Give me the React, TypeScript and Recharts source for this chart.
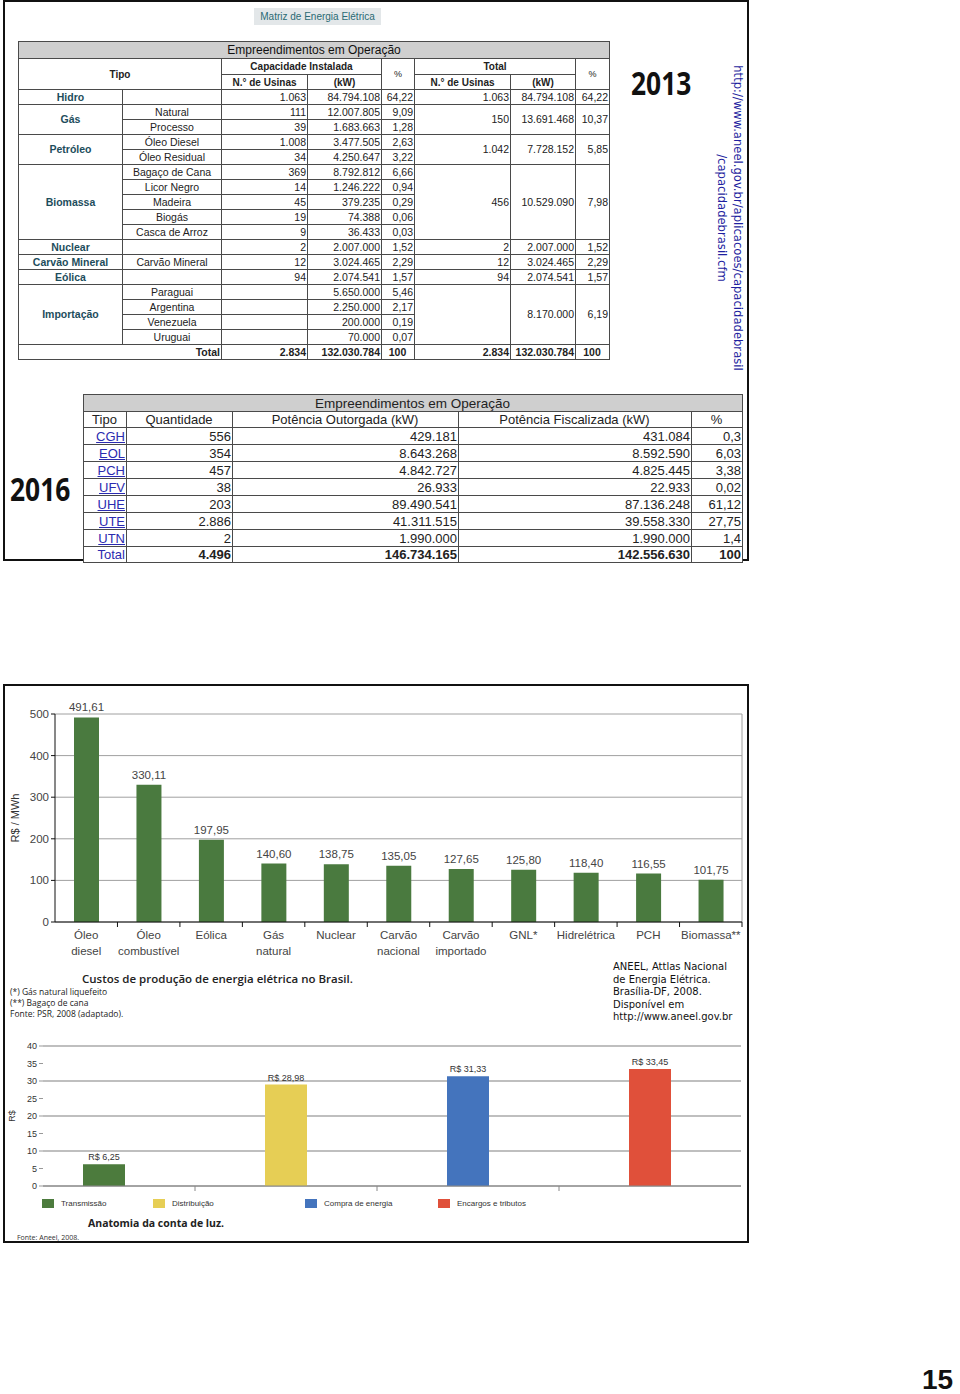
import React from "react";
import { Bar, BarChart, CartesianGrid, LabelList, Legend, XAxis, YAxis } from "recharts";

// ---- 2013 table ----
const matrizGroups = ["Hidro", "Gás", "Petróleo", "Biomassa", "Nuclear", "Carvão Mineral", "Eólica", "Importação"];
const matrizSubtypes = [
	[""],
	["Natural", "Processo"],
	["Óleo Diesel", "Óleo Residual"],
	["Bagaço de Cana", "Licor Negro", "Madeira", "Biogás", "Casca de Arroz"],
	[""],
	["Carvão Mineral"],
	[""],
	["Paraguai", "Argentina", "Venezuela", "Uruguai"],
];
const matrizUsinas = ["1.063", "111", "39", "1.008", "34", "369", "14", "45", "19", "9", "2", "12", "94", "", "", "", ""];
const matrizKw = ["84.794.108", "12.007.805", "1.683.663", "3.477.505", "4.250.647", "8.792.812", "1.246.222", "379.235", "74.388", "36.433", "2.007.000", "3.024.465", "2.074.541", "5.650.000", "2.250.000", "200.000", "70.000"];
const matrizPct = ["64,22", "9,09", "1,28", "2,63", "3,22", "6,66", "0,94", "0,29", "0,06", "0,03", "1,52", "2,29", "1,57", "5,46", "2,17", "0,19", "0,07"];
const matrizTotalUsinas = ["1.063", "150", "1.042", "456", "2", "12", "94", ""];
const matrizTotalKw = ["84.794.108", "13.691.468", "7.728.152", "10.529.090", "2.007.000", "3.024.465", "2.074.541", "8.170.000"];
const matrizTotalPct = ["64,22", "10,37", "5,85", "7,98", "1,52", "2,29", "1,57", "6,19"];
const matrizGrandTotal = ["2.834", "132.030.784", "100", "2.834", "132.030.784", "100"];

// ---- 2016 table ----
const tipos2016 = ["CGH", "EOL", "PCH", "UFV", "UHE", "UTE", "UTN"];
const quantidade2016 = ["556", "354", "457", "38", "203", "2.886", "2"];
const outorgada2016 = ["429.181", "8.643.268", "4.842.727", "26.933", "89.490.541", "41.311.515", "1.990.000"];
const fiscalizada2016 = ["431.084", "8.592.590", "4.825.445", "22.933", "87.136.248", "39.558.330", "1.990.000"];
const pct2016 = ["0,3", "6,03", "3,38", "0,02", "61,12", "27,75", "1,4"];
const total2016 = ["4.496", "146.734.165", "142.556.630", "100"];

// ---- production cost chart ----
const costCategories = ["Óleo\ndiesel", "Óleo\ncombustível", "Eólica", "Gás\nnatural", "Nuclear", "Carvão\nnacional", "Carvão\nimportado", "GNL*", "Hidrelétrica", "PCH", "Biomassa**"];
const costValues = [491.61, 330.11, 197.95, 140.6, 138.75, 135.05, 127.65, 125.8, 118.4, 116.55, 101.75];
const costTicks = [0, 100, 200, 300, 400, 500];

// ---- electricity bill chart ----
const billCategories = ["Transmissão", "Distribuição", "Compra de energia", "Encargos e tributos"];
const billValues = [6.25, 28.98, 31.33, 33.45];
const billColors = ["#4c7b3d", "#e6ce55", "#4474bd", "#e0503a"];
const billTicks = [0, 5, 10, 15, 20, 25, 30, 35, 40];

const SANS = '"Liberation Sans", Arial, sans-serif';

const costData = costCategories.map((name, i) => ({ name, value: costValues[i] }));
const billData = billCategories.map((name, i) => ({ name, [name]: billValues[i] }));

const fmt = (v: number) => v.toFixed(2).replace(".", ",");

function Matriz2013() {
	const bd = "1px solid #4a4a4a";
	const base: React.CSSProperties = { border: bd, padding: "0 2px", lineHeight: "13px", whiteSpace: "nowrap", overflow: "hidden" };
	const num: React.CSSProperties = { ...base, textAlign: "right", padding: "0 1px 0 0" };
	const sub: React.CSSProperties = { ...base, textAlign: "center" };
	const grp: React.CSSProperties = { ...base, textAlign: "center", fontWeight: "bold", color: "#1d4d5c" };
	const head: React.CSSProperties = { ...base, textAlign: "center", fontWeight: "bold", fontSize: 10 };
	const rows: React.ReactNode[] = [];
	let r = 0;
	matrizGroups.forEach((g, gi) => {
		const subs = matrizSubtypes[gi];
		subs.forEach((s, si) => {
			const k = r++;
			rows.push(
				<tr key={k} style={{ height: 15 }}>
					{si === 0 && <td rowSpan={subs.length} style={grp}>{g}</td>}
					<td style={sub}>{s}</td>
					<td style={num}>{matrizUsinas[k]}</td>
					<td style={num}>{matrizKw[k]}</td>
					<td style={num}>{matrizPct[k]}</td>
					{si === 0 && <td rowSpan={subs.length} style={num}>{matrizTotalUsinas[gi]}</td>}
					{si === 0 && <td rowSpan={subs.length} style={num}>{matrizTotalKw[gi]}</td>}
					{si === 0 && <td rowSpan={subs.length} style={num}>{matrizTotalPct[gi]}</td>}
				</tr>
			);
		});
	});
	return <table style={{ position: "absolute", left: 18, top: 41, width: 591, borderCollapse: "collapse", tableLayout: "fixed", background: "#fff", fontFamily: SANS, fontSize: 10.5, color: "#222" }}>
		<colgroup>
			{[104, 99, 86, 74, 33, 96, 65, 34].map((w, i) => <col key={i} style={{ width: w }} />)}
		</colgroup>
		<tbody>
			<tr style={{ height: 17 }}>
				<td colSpan={8} style={{ ...base, textAlign: "center", background: "#cfcfcf", fontSize: 12, color: "#111" }}>Empreendimentos em Operação</td>
			</tr>
			<tr style={{ height: 16 }}>
				<td colSpan={2} rowSpan={2} style={head}>Tipo</td>
				<td colSpan={2} style={head}>Capacidade Instalada</td>
				<td rowSpan={2} style={{ ...head, fontWeight: "normal", fontSize: 9 }}>%</td>
				<td colSpan={2} style={head}>Total</td>
				<td rowSpan={2} style={{ ...head, fontWeight: "normal", fontSize: 9 }}>%</td>
			</tr>
			<tr style={{ height: 15 }}>
				<td style={head}>N.° de Usinas</td>
				<td style={head}>(kW)</td>
				<td style={head}>N.° de Usinas</td>
				<td style={head}>(kW)</td>
			</tr>
			{rows}
			<tr style={{ height: 15 }}>
				<td colSpan={2} style={{ ...num, fontWeight: "bold" }}>Total</td>
				{matrizGrandTotal.map((t, i) => <td key={i} style={{ ...num, fontWeight: "bold", textAlign: i === 2 || i === 5 ? "center" : "right" }}>{t}</td>)}
			</tr>
		</tbody>
	</table>;
}

function Operacao2016() {
	const bd = "1px solid #4a4a4a";
	const base: React.CSSProperties = { border: bd, padding: "0 1px 0 0", lineHeight: "15px", whiteSpace: "nowrap", overflow: "hidden" };
	const num: React.CSSProperties = { ...base, textAlign: "right" };
	const link: React.CSSProperties = { ...base, textAlign: "right", color: "#2b2bb0", textDecoration: "underline" };
	const head: React.CSSProperties = { ...base, textAlign: "center" };
	return <table style={{ position: "absolute", left: 83, top: 394, width: 659, borderCollapse: "collapse", tableLayout: "fixed", background: "#fff", fontFamily: SANS, fontSize: 13, color: "#222" }}>
		<colgroup>
			{[43, 106, 226, 233, 51].map((w, i) => <col key={i} style={{ width: w }} />)}
		</colgroup>
		<tbody>
			<tr style={{ height: 17 }}>
				<td colSpan={5} style={{ ...head, background: "#cfcfcf", fontSize: 13.5 }}>Empreendimentos em Operação</td>
			</tr>
			<tr style={{ height: 16 }}>
				<td style={head}>Tipo</td>
				<td style={head}>Quantidade</td>
				<td style={head}>Potência Outorgada (kW)</td>
				<td style={head}>Potência Fiscalizada (kW)</td>
				<td style={head}>%</td>
			</tr>
			{tipos2016.map((t, i) => <tr key={t} style={{ height: 17 }}>
				<td style={link}>{t}</td>
				<td style={num}>{quantidade2016[i]}</td>
				<td style={num}>{outorgada2016[i]}</td>
				<td style={num}>{fiscalizada2016[i]}</td>
				<td style={num}>{pct2016[i]}</td>
			</tr>)}
			<tr style={{ height: 15 }}>
				<td style={{ ...num, color: "#2b2bb0" }}>Total</td>
				{total2016.map((t, i) => <td key={i} style={{ ...num, fontWeight: "bold" }}>{t}</td>)}
			</tr>
		</tbody>
	</table>;
}

function CostTick(props: any) {
	const { x, y, payload } = props;
	const half = payload?.offset ?? 31;
	const lines = String(payload.value).split("\n");
	return <g>
		<line x1={x + half} x2={x + half} y1={y - 8} y2={y - 3} stroke="#111" />
		<text x={x} y={y} textAnchor="middle" fontFamily={SANS} fontSize={11.5} fill="#444">
			{lines.map((l, i) => <tspan key={i} x={x} dy={i === 0 ? 9 : 16}>{l}</tspan>)}
		</text>
	</g>;
}

function BillTick(props: any) {
	const { x, y, payload, index } = props;
	const half = payload?.offset ?? 91;
	if (index > 2) return null;
	return <line x1={x + half} x2={x + half} y1={y} y2={y + 5} stroke="#888" />;
}

function CostChart() {
	return <div style={{ position: "absolute", left: 0, top: 690 }}>
		<BarChart width={750} height={280} data={costData} margin={{ top: 24, right: 8, bottom: 8, left: 15 }}>
			<CartesianGrid stroke="#a0a0a0" vertical={true}
				verticalCoordinatesGenerator={({ offset }: any) => [offset.left + offset.width]} />
			<XAxis dataKey="name" interval={0} height={40} axisLine={{ stroke: "#111" }} tickLine={false} tickSize={6} tickMargin={2} tick={<CostTick />} />
			<YAxis width={40} domain={[0, 500]} ticks={costTicks} axisLine={{ stroke: "#111" }} tickLine={{ stroke: "#111" }} tickSize={4}
				tick={{ fontFamily: SANS, fontSize: 11.5, fill: "#444" }}
				label={(p: any) => {
					const vb = p.viewBox;
					const cx = vb.x + 4, cy = vb.y + vb.height / 2;
					return <text x={cx} y={cy} transform={`rotate(-90, ${cx}, ${cy})`} textAnchor="middle" fontFamily={SANS} fontSize={11} fill="#333">R$ / MWh</text>;
				}} />
			<Bar dataKey="value" fill="#4a7a3f" barSize={25} isAnimationActive={false}>
				<LabelList dataKey="value" position="top" offset={6} formatter={(v: any) => fmt(Number(v))}
					style={{ fontFamily: SANS, fontSize: 11.5, fill: "#444" }} />
			</Bar>
		</BarChart>
	</div>;
}

function BillChart() {
	const legendLefts = [42, 153, 305, 438];
	return <div style={{ position: "absolute", left: 0, top: 1035 }}>
		<BarChart width={750} height={185} data={billData} margin={{ top: 11, right: 9, bottom: 8, left: 13 }}>
			<CartesianGrid stroke="#aaaaaa" strokeWidth={1.5} vertical={false} />
			<XAxis dataKey="name" interval={0} height={12} padding={{ left: -30, right: 0 }} axisLine={{ stroke: "#888" }} tickLine={false} tickSize={0} tickMargin={0} tick={<BillTick />} />
			<YAxis width={30} domain={[0, 40]} ticks={billTicks} axisLine={false} tickLine={{ stroke: "#999" }} tickSize={4}
				tick={{ fontFamily: SANS, fontSize: 9, fill: "#333" }}
				label={(p: any) => {
					const vb = p.viewBox;
					const cx = vb.x + 2, cy = vb.y + vb.height / 2;
					return <text x={cx} y={cy} transform={`rotate(-90, ${cx}, ${cy})`} textAnchor="middle" fontFamily={SANS} fontSize={9} fill="#333">R$</text>;
				}} />
			<Legend verticalAlign="bottom" wrapperStyle={{ left: 0, width: 750 }}
				content={() => <div style={{ position: "relative", width: 750, height: 14 }}>
					{billCategories.map((c, i) => <div key={c} style={{ position: "absolute", left: legendLefts[i], top: 0, display: "flex", alignItems: "center", height: 10 }}>
						<span style={{ display: "inline-block", width: 12, height: 9, background: billColors[i], marginRight: 7 }} />
						<span style={{ fontFamily: SANS, fontSize: 8, color: "#333" }}>{c}</span>
					</div>)}
				</div>} />
			{billCategories.map((c, i) => <Bar key={c} dataKey={c} stackId="conta" fill={billColors[i]} barSize={42} isAnimationActive={false}>
				<LabelList dataKey={c} content={(p: any) => {
					if (p.value == null) return null;
					return <text x={p.x + p.width / 2} y={p.y - 4} textAnchor="middle" fontFamily={SANS} fontSize={9} fill="#333">{"R$ " + fmt(Number(p.value))}</text>;
				}} />
			</Bar>)}
		</BarChart>
	</div>;
}

export default function App() {
	const bigYear: React.CSSProperties = { position: "absolute", fontFamily: '"Open Sans", sans-serif', fontWeight: 700, fontSize: 33, lineHeight: 1, transform: "scaleX(0.8)", transformOrigin: "left top", color: "#111", whiteSpace: "nowrap" };
	return <div style={{ position: "absolute", left: 0, top: 0, width: 960, height: 1394, background: "#fff", fontFamily: SANS }}>
		{/* top panel */}
		<div style={{ position: "absolute", left: 3, top: 0, width: 746, height: 561, border: "2px solid #111", boxSizing: "border-box" }} />
		<div style={{ position: "absolute", left: 254, top: 8, width: 127, height: 17, background: "#e3e7e9", color: "#2a6a74", fontFamily: SANS, fontSize: 10, lineHeight: "17px", textAlign: "center", whiteSpace: "nowrap" }}>Matriz de Energia Elétrica</div>
		<Matriz2013 />
		<div style={{ ...bigYear, left: 631, top: 66 }}>2013</div>
		<div style={{ position: "absolute", left: 570, top: 202, width: 320, height: 32, transform: "rotate(90deg)", transformOrigin: "160px 16px", color: "#1f1fa0", fontFamily: '"DejaVu Sans", sans-serif', fontSize: 11.6, lineHeight: "16px", textAlign: "center", whiteSpace: "nowrap" }}>
			<div>http://www.aneel.gov.br/aplicacoes/capacidadebrasil</div>
			<div>/capacidadebrasil.cfm</div>
		</div>
		<Operacao2016 />
		<div style={{ ...bigYear, left: 10, top: 472 }}>2016</div>

		{/* middle panel */}
		<div style={{ position: "absolute", left: 3, top: 684, width: 746, height: 559, border: "2px solid #111", boxSizing: "border-box" }} />
		<CostChart />
		<div style={{ position: "absolute", left: 82, top: 971, fontFamily: '"Open Sans", sans-serif', fontWeight: 600, fontSize: 11.5, color: "#222", whiteSpace: "nowrap" }}>Custos de produção de energia elétrica no Brasil.</div>
		<div style={{ position: "absolute", left: 10, top: 986, fontFamily: '"Open Sans", sans-serif', fontSize: 8.5, lineHeight: "11px", color: "#222", whiteSpace: "nowrap" }}>
			<div>(*) Gás natural liquefeito</div>
			<div>(**) Bagaço de cana</div>
			<div>Fonte: PSR, 2008 (adaptado).</div>
		</div>
		<div style={{ position: "absolute", left: 613, top: 961, fontFamily: '"DejaVu Sans", sans-serif', fontSize: 10, lineHeight: "12.5px", color: "#111", whiteSpace: "nowrap" }}>
			<div>ANEEL, Attlas Nacional</div>
			<div>de Energia Elétrica.</div>
			<div>Brasília-DF, 2008.</div>
			<div>Disponível em</div>
			<div>http://www.aneel.gov.br</div>
		</div>
		<BillChart />
		<div style={{ position: "absolute", left: 88, top: 1216, fontFamily: '"Open Sans", sans-serif', fontWeight: 700, fontSize: 10.5, color: "#222", whiteSpace: "nowrap" }}>Anatomia da conta de luz.</div>
		<div style={{ position: "absolute", left: 17, top: 1233, fontFamily: '"Open Sans", sans-serif', fontSize: 7, color: "#333", whiteSpace: "nowrap" }}>Fonte: Aneel, 2008.</div>

		<div style={{ position: "absolute", left: 922, top: 1366, width: 34, fontFamily: SANS, fontWeight: 700, fontSize: 28, lineHeight: "28px", color: "#111", whiteSpace: "nowrap" }}>15</div>
	</div>;
}
